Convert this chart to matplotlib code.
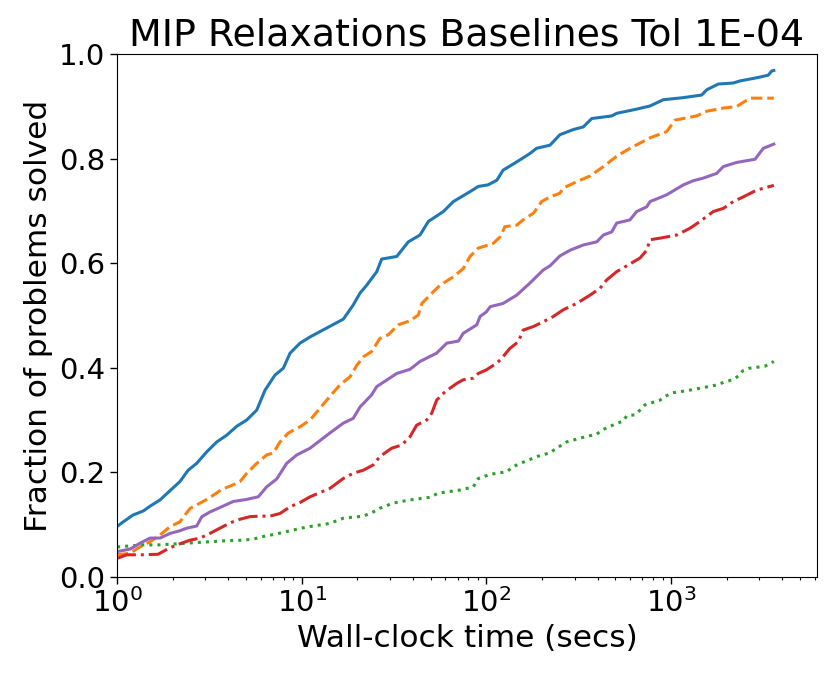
import matplotlib
matplotlib.use("Agg")
import matplotlib.pyplot as plt

# wall-clock time (secs) and fraction of problems solved, one pair per baseline
t_blue = [1.0, 1.08, 1.22, 1.39, 1.51, 1.71, 1.94, 2.19, 2.43, 2.70,
          3.06, 3.47, 3.93, 4.45, 5.04, 5.71, 6.33, 7.17, 7.95, 8.65,
          9.79, 11.1, 16.8, 19.0, 20.7, 22.5, 25.5, 27.1, 32.7, 37.8,
          43.7, 48.5, 58.5, 66.2, 81.5, 90.4, 102, 114, 123, 146,
          172, 187, 221, 250, 296, 335, 372, 477, 508, 651,
          769, 908, 1165, 1465, 1559, 1801, 2172, 2361, 2908, 3360,
          3505, 3600]
f_blue = [0.096, 0.105, 0.118, 0.126, 0.135, 0.147, 0.165, 0.182, 0.204, 0.217,
          0.239, 0.258, 0.271, 0.288, 0.300, 0.319, 0.357, 0.386, 0.399, 0.428,
          0.447, 0.459, 0.493, 0.520, 0.543, 0.558, 0.584, 0.608, 0.613, 0.641,
          0.654, 0.680, 0.699, 0.718, 0.737, 0.747, 0.750, 0.759, 0.778, 0.794,
          0.810, 0.820, 0.826, 0.846, 0.856, 0.861, 0.877, 0.882, 0.887, 0.895,
          0.901, 0.913, 0.917, 0.922, 0.932, 0.943, 0.945, 0.949, 0.955, 0.960,
          0.968, 0.969]

t_orange = [1.0, 1.18, 1.33, 1.51, 1.71, 1.94, 2.19, 2.33, 2.49, 2.82,
            3.06, 3.32, 3.69, 4.26, 4.63, 5.04, 5.71, 6.46, 7.02, 7.63,
            8.46, 9.79, 11.1, 14.2, 16.1, 18.3, 19.9, 21.6, 23.9, 26.5,
            29.4, 33.3, 38.6, 42.8, 44.7, 49.5, 56.1, 66.2, 75.0, 81.5,
            90.4, 109, 119, 126, 146, 158, 180, 199, 221, 250,
            261, 308, 364, 430, 508, 599, 769, 947, 1050, 1376,
            1559, 1917, 2266, 2675, 3157, 3600]
f_orange = [0.042, 0.045, 0.057, 0.067, 0.080, 0.096, 0.105, 0.118, 0.131, 0.141,
            0.148, 0.156, 0.167, 0.176, 0.182, 0.198, 0.217, 0.233, 0.237, 0.258,
            0.275, 0.287, 0.300, 0.345, 0.367, 0.383, 0.405, 0.421, 0.431, 0.456,
            0.463, 0.482, 0.490, 0.501, 0.523, 0.539, 0.558, 0.574, 0.590, 0.613,
            0.629, 0.638, 0.651, 0.670, 0.673, 0.683, 0.696, 0.718, 0.727, 0.734,
            0.744, 0.756, 0.767, 0.785, 0.805, 0.820, 0.840, 0.852, 0.874, 0.882,
            0.891, 0.897, 0.900, 0.916, 0.916, 0.916]

t_green = [1.0, 1.18, 1.39, 1.71, 2.11, 2.59, 3.19, 3.93, 4.83, 5.47,
           6.20, 7.32, 8.65, 10.6, 14.2, 16.8, 21.6, 24.4, 26.5, 31.3,
           38.6, 49.5, 54.9, 72.0, 84.9, 90.4, 105, 129, 140, 165,
           195, 221, 235, 272, 328, 396, 430, 497, 551, 575,
           638, 679, 722, 871, 927, 1015, 1214, 1494, 1766, 1958,
           2156, 2311, 2442, 2651, 2929, 3224, 3600]
f_green = [0.057, 0.059, 0.061, 0.061, 0.063, 0.065, 0.067, 0.069, 0.070, 0.072,
           0.077, 0.082, 0.088, 0.095, 0.102, 0.112, 0.116, 0.124, 0.131, 0.141,
           0.147, 0.152, 0.160, 0.166, 0.172, 0.188, 0.196, 0.201, 0.211, 0.222,
           0.232, 0.237, 0.244, 0.258, 0.266, 0.273, 0.282, 0.292, 0.298, 0.308,
           0.310, 0.319, 0.329, 0.338, 0.345, 0.352, 0.356, 0.362, 0.367, 0.373,
           0.377, 0.384, 0.394, 0.399, 0.401, 0.403, 0.412]

t_red = [1.0, 1.13, 1.39, 1.67, 1.90, 2.11, 2.49, 2.82, 3.19, 3.61,
         4.09, 4.63, 5.25, 5.95, 6.74, 7.63, 8.65, 9.79, 11.1, 14.2,
         16.8, 19.0, 21.6, 24.4, 26.5, 30.7, 34.8, 38.6, 41.9, 47.5,
         50.6, 53.8, 59.7, 69.1, 75.0, 84.9, 90.4, 100, 114, 121,
         134, 149, 158, 180, 203, 230, 261, 308, 364, 412,
         448, 508, 575, 679, 738, 769, 871, 1072, 1266, 1434,
         1692, 1917, 2172, 2459, 2908, 3600]
f_red = [0.035, 0.042, 0.042, 0.043, 0.054, 0.061, 0.070, 0.074, 0.083, 0.093,
         0.103, 0.110, 0.115, 0.116, 0.116, 0.121, 0.134, 0.142, 0.153, 0.169,
         0.188, 0.198, 0.204, 0.214, 0.230, 0.246, 0.252, 0.268, 0.290, 0.300,
         0.313, 0.338, 0.354, 0.370, 0.377, 0.380, 0.389, 0.396, 0.409, 0.418,
         0.437, 0.450, 0.472, 0.479, 0.488, 0.498, 0.511, 0.523, 0.539, 0.552,
         0.568, 0.584, 0.595, 0.610, 0.625, 0.645, 0.648, 0.654, 0.667, 0.680,
         0.699, 0.705, 0.718, 0.727, 0.740, 0.749]

t_purple = [1.0, 1.18, 1.33, 1.51, 1.71, 1.94, 2.19, 2.39, 2.70, 2.88,
            3.19, 3.69, 4.26, 5.04, 5.82, 6.46, 7.32, 8.29, 9.40, 11.1,
            14.2, 16.8, 19.0, 20.7, 23.9, 25.5, 32.7, 38.6, 43.7, 53.8,
            61.0, 70.5, 75.0, 88.6, 92.4, 100, 105, 123, 146, 172,
            203, 221, 250, 284, 335, 396, 430, 477, 508, 599,
            651, 738, 769, 947, 1165, 1319, 1494, 1766, 1917, 2266,
            2847, 3157, 3600]
f_purple = [0.048, 0.053, 0.064, 0.074, 0.074, 0.083, 0.088, 0.093, 0.097, 0.115,
            0.124, 0.134, 0.144, 0.148, 0.153, 0.172, 0.187, 0.217, 0.233, 0.246,
            0.275, 0.294, 0.303, 0.325, 0.348, 0.364, 0.389, 0.397, 0.412, 0.428,
            0.447, 0.451, 0.466, 0.482, 0.498, 0.507, 0.517, 0.523, 0.539, 0.562,
            0.587, 0.595, 0.614, 0.625, 0.635, 0.641, 0.654, 0.660, 0.677, 0.683,
            0.699, 0.708, 0.718, 0.731, 0.750, 0.758, 0.763, 0.772, 0.785, 0.793,
            0.799, 0.820, 0.828]

fig = plt.figure(figsize=(8.31, 6.75), dpi=100)
ax = fig.add_subplot(111)
fig.subplots_adjust(left=0.1408, right=0.9832, bottom=0.1456, top=0.9196)

ax.plot(t_blue, f_blue, color="C0", linestyle="-", linewidth=2.2)
ax.plot(t_orange, f_orange, color="C1", linestyle="--", linewidth=2.2)
ax.plot(t_green, f_green, color="C2", linestyle=":", linewidth=2.2)
ax.plot(t_red, f_red, color="C3", linestyle="-.", linewidth=2.2)
ax.plot(t_purple, f_purple, color="C4", linestyle="-", linewidth=2.2)

ax.set_xscale("log")
ax.set_xlim(1, 6170)
ax.set_ylim(0, 1.0)
ax.set_yticks([0.0, 0.2, 0.4, 0.6, 0.8, 1.0])

ax.tick_params(axis="both", which="major", labelsize=21, length=5, width=1)
ax.tick_params(axis="both", which="minor", length=2.5, width=0.8)

ax.set_title("MIP Relaxations Baselines Tol 1E-04", fontsize=27.3)
ax.set_xlabel("Wall-clock time (secs)", fontsize=22.5)
ax.set_ylabel("Fraction of problems solved", fontsize=22.5)

fig.savefig("out.png", dpi=100)
